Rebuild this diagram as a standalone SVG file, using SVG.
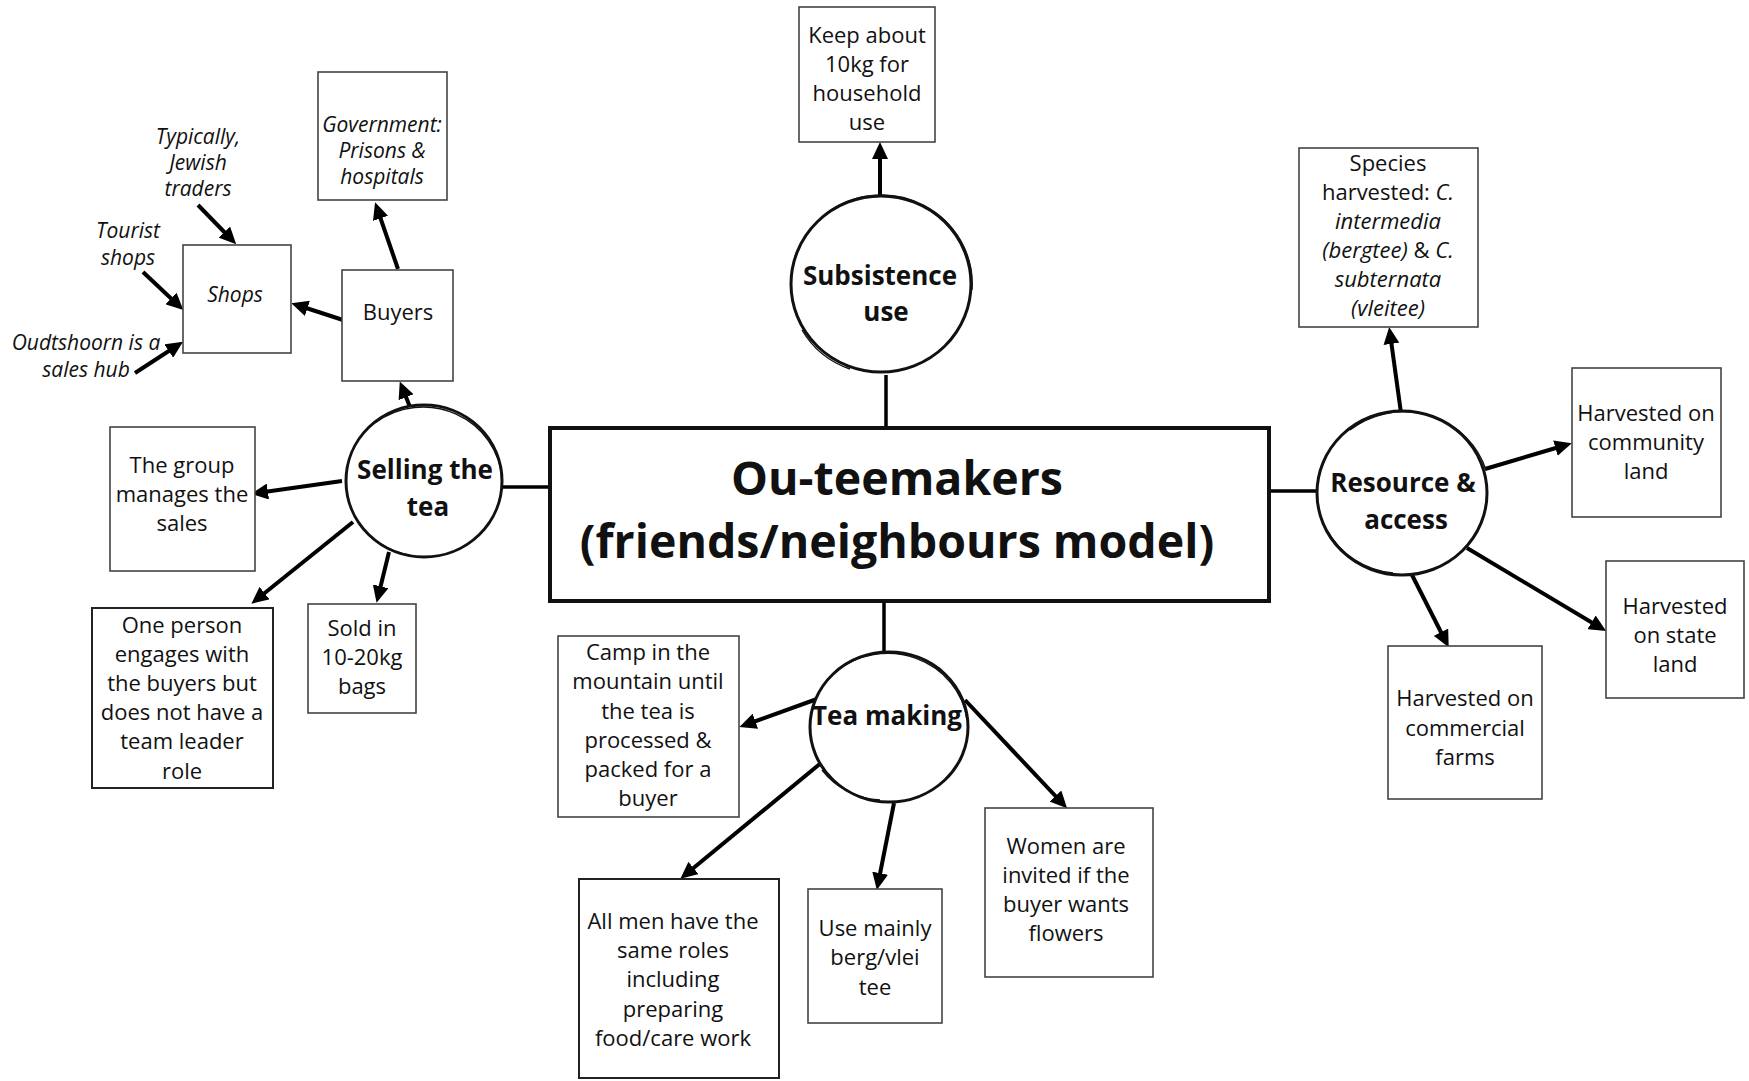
<svg xmlns="http://www.w3.org/2000/svg" width="1749" height="1081" viewBox="0 0 1749 1081">
<style>
text{font-family:"Open Sans","Liberation Sans",sans-serif;fill:#111;text-anchor:middle}
.b{font-size:22px}
.i{font-size:21px;font-style:italic}
.c{font-size:26px;font-weight:bold}
.t{font-size:46.5px;font-weight:bold}
.box{fill:#fff;stroke:#444;stroke-width:1.6}
.main{fill:#fff;stroke:#111;stroke-width:4}
.circ{fill:#fff;stroke:#111;stroke-width:3}
.sk{fill:none;stroke:#111;stroke-width:1.4}
.ar{stroke:#000;stroke-width:4;fill:none;marker-end:url(#ah)}
.ln{stroke:#000;stroke-width:3.5;fill:none}
</style>
<defs>
<marker id="ah" markerUnits="userSpaceOnUse" markerWidth="18" markerHeight="16" refX="11" refY="8" orient="auto">
<path d="M0,0 L17,8 L0,16 z" fill="#000"/>
</marker>
</defs>
<rect width="1749" height="1081" fill="#fff"/>
<g id="connectors">
<line class="ln" x1="886" y1="375" x2="886" y2="427"/>
<line class="ln" x1="884" y1="601" x2="884" y2="652"/>
<line class="ln" x1="502" y1="487" x2="550" y2="487"/>
<line class="ln" x1="1269" y1="491" x2="1317" y2="491"/>
<line class="ar" x1="880" y1="199" x2="880" y2="148"/>
<line class="ar" x1="410" y1="407" x2="402" y2="387"/>
<line class="ar" x1="398" y1="269" x2="377" y2="208"/>
<line class="ar" x1="343" y1="320" x2="297" y2="305"/>
<line class="ar" x1="198" y1="205" x2="232" y2="240"/>
<line class="ar" x1="143" y1="272" x2="179" y2="306"/>
<line class="ar" x1="135" y1="373" x2="178" y2="345"/>
<line class="ar" x1="342" y1="481" x2="257" y2="493"/>
<line class="ar" x1="353" y1="522" x2="256" y2="600"/>
<line class="ar" x1="389" y1="552" x2="378" y2="597"/>
<line class="ar" x1="817" y1="699" x2="745" y2="725"/>
<line class="ar" x1="821" y1="763" x2="685" y2="875"/>
<line class="ar" x1="894" y1="803" x2="878" y2="884"/>
<line class="ar" x1="965" y1="700" x2="1063" y2="804"/>
<line class="ar" x1="1401" y1="413" x2="1390" y2="333"/>
<line class="ar" x1="1485" y1="469" x2="1566" y2="445"/>
<line class="ar" x1="1467" y1="548" x2="1601" y2="628"/>
<line class="ar" x1="1412" y1="575" x2="1446" y2="642"/>
</g>
<g id="main">
<rect class="main" x="550" y="428" width="719" height="173"/>
<text class="t" x="897" y="495">Ou-teemakers</text>
<text class="t" x="897" y="558">(friends/neighbours model)</text>
</g>
<g id="subsistence">
<ellipse class="circ" cx="881" cy="284" rx="90" ry="88"/>
<path class="sk" d="M825,214 A91,89 0 0 1 972,290"/>
<path class="sk" d="M802,330 A89,87 0 0 0 850,369"/>
<text class="c" x="880" y="285">Subsistence</text>
<text class="c" x="886" y="321">use</text>
</g>
<g id="keep">
<rect class="box" x="799" y="7" width="136" height="135"/>
<text class="b" x="867" y="43">Keep about</text>
<text class="b" x="867" y="72">10kg for</text>
<text class="b" x="867" y="101">household</text>
<text class="b" x="867" y="130">use</text>
</g>
<g id="selling">
<ellipse class="circ" cx="424" cy="481" rx="78" ry="76"/>
<path class="sk" d="M375,423 A79,77 0 0 1 502,480"/>
<path class="sk" d="M357,520 A77,75 0 0 0 410,555"/>
<text class="c" x="425" y="479">Selling the</text>
<text class="c" x="428" y="516">tea</text>
</g>
<g id="buyers">
<rect class="box" x="342" y="270" width="111" height="111"/>
<text class="b" x="398" y="320">Buyers</text>
</g>
<g id="government">
<rect class="box" x="318" y="72" width="129" height="128"/>
<text class="i" x="382" y="132">Government:</text>
<text class="i" x="382" y="158">Prisons &amp;</text>
<text class="i" x="382" y="184">hospitals</text>
</g>
<g id="shops">
<rect class="box" x="183" y="245" width="108" height="108"/>
<text class="i" x="235" y="302">Shops</text>
</g>
<g id="typically">
<text class="i" x="198" y="144">Typically,</text>
<text class="i" x="198" y="170">Jewish</text>
<text class="i" x="198" y="196">traders</text>
</g>
<g id="tourist">
<text class="i" x="128" y="238">Tourist</text>
<text class="i" x="128" y="265">shops</text>
</g>
<g id="oudtshoorn">
<text class="i" x="86" y="350">Oudtshoorn is a</text>
<text class="i" x="86" y="377">sales hub</text>
</g>
<g id="group">
<rect class="box" x="110" y="427" width="145" height="144"/>
<text class="b" x="182" y="473">The group</text>
<text class="b" x="182" y="502">manages the</text>
<text class="b" x="182" y="531">sales</text>
</g>
<g id="oneperson">
<rect class="box" x="92" y="608" width="181" height="180" style="stroke:#222;stroke-width:2"/>
<text class="b" x="182" y="633">One person</text>
<text class="b" x="182" y="662">engages with</text>
<text class="b" x="182" y="691">the buyers but</text>
<text class="b" x="182" y="720">does not have a</text>
<text class="b" x="182" y="749">team leader</text>
<text class="b" x="182" y="779">role</text>
</g>
<g id="soldin">
<rect class="box" x="308" y="604" width="108" height="109"/>
<text class="b" x="362" y="636">Sold in</text>
<text class="b" x="362" y="665">10-20kg</text>
<text class="b" x="362" y="694">bags</text>
</g>
<g id="teamaking">
<ellipse class="circ" cx="889" cy="727" rx="79" ry="75"/>
<path class="sk" d="M835,672 A80,76 0 0 1 967,720"/>
<path class="sk" d="M822,770 A78,74 0 0 0 880,800"/>
<text class="c" x="887" y="725">Tea making</text>
</g>
<g id="camp">
<rect class="box" x="558" y="636" width="181" height="181"/>
<text class="b" x="648" y="660">Camp in the</text>
<text class="b" x="648" y="689">mountain until</text>
<text class="b" x="648" y="719">the tea is</text>
<text class="b" x="648" y="748">processed &amp;</text>
<text class="b" x="648" y="777">packed for a</text>
<text class="b" x="648" y="806">buyer</text>
</g>
<g id="allmen">
<rect class="box" x="579" y="879" width="200" height="199" style="stroke:#222;stroke-width:2"/>
<text class="b" x="673" y="929">All men have the</text>
<text class="b" x="673" y="958">same roles</text>
<text class="b" x="673" y="987">including</text>
<text class="b" x="673" y="1017">preparing</text>
<text class="b" x="673" y="1046">food/care work</text>
</g>
<g id="usemainly">
<rect class="box" x="808" y="889" width="134" height="134"/>
<text class="b" x="875" y="936">Use mainly</text>
<text class="b" x="875" y="965">berg/vlei</text>
<text class="b" x="875" y="995">tee</text>
</g>
<g id="women">
<rect class="box" x="985" y="808" width="168" height="169"/>
<text class="b" x="1066" y="854">Women are</text>
<text class="b" x="1066" y="883">invited if the</text>
<text class="b" x="1066" y="912">buyer wants</text>
<text class="b" x="1066" y="941">flowers</text>
</g>
<g id="resource">
<ellipse class="circ" cx="1402" cy="493" rx="85" ry="82"/>
<path class="sk" d="M1350,430 A86,83 0 0 1 1486,470"/>
<path class="sk" d="M1327,530 A84,81 0 0 0 1393,573"/>
<text class="c" x="1403" y="492">Resource &amp;</text>
<text class="c" x="1406" y="529">access</text>
</g>
<g id="species">
<rect class="box" x="1299" y="148" width="179" height="179"/>
<text class="b" x="1388" y="171">Species</text>
<text class="b" x="1388" y="200">harvested: <tspan font-style="italic">C.</tspan></text>
<text class="b" x="1388" y="229" font-style="italic">intermedia</text>
<text class="b" x="1388" y="258"><tspan font-style="italic">(bergtee)</tspan> &amp; <tspan font-style="italic">C.</tspan></text>
<text class="b" x="1388" y="287" font-style="italic">subternata</text>
<text class="b" x="1388" y="316" font-style="italic">(vleitee)</text>
</g>
<g id="community">
<rect class="box" x="1572" y="368" width="149" height="149"/>
<text class="b" x="1646" y="421">Harvested on</text>
<text class="b" x="1646" y="450">community</text>
<text class="b" x="1646" y="479">land</text>
</g>
<g id="state">
<rect class="box" x="1606" y="561" width="138" height="137"/>
<text class="b" x="1675" y="614">Harvested</text>
<text class="b" x="1675" y="643">on state</text>
<text class="b" x="1675" y="672">land</text>
</g>
<g id="commercial">
<rect class="box" x="1388" y="646" width="154" height="153"/>
<text class="b" x="1465" y="706">Harvested on</text>
<text class="b" x="1465" y="736">commercial</text>
<text class="b" x="1465" y="765">farms</text>
</g>
</svg>
